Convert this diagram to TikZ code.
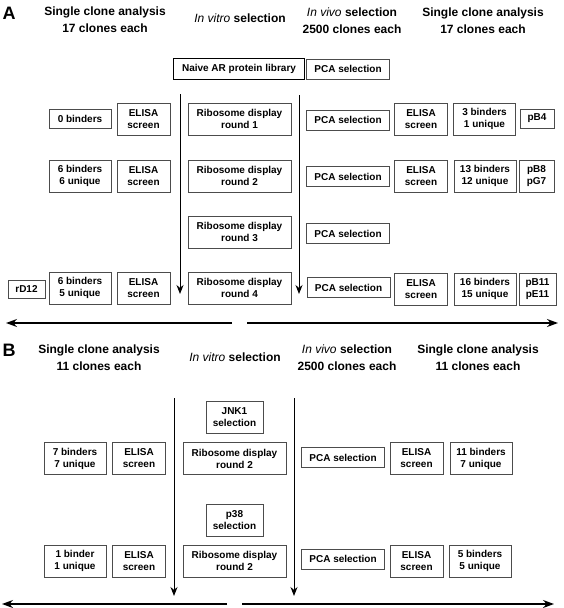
\documentclass[tikz,border=0pt]{standalone}
\usepackage{fontspec}
\setmainfont{Liberation Sans}
\usetikzlibrary{arrows.meta}

\begin{document}
\begin{tikzpicture}[x=1pt, y=-1pt,
  box/.style={rectangle, draw=black!70, line width=0.7pt, align=center,
              inner sep=1pt, minimum height=32pt,
              font=\bfseries\fontsize{10}{12}\selectfont},
  ribo/.style={box, minimum width=103pt},
  elisa/.style={box, minimum width=53pt},
  hits/.style={box, minimum width=62pt},
  pca/.style={box, minimum width=83pt, minimum height=20pt},
  clone/.style={box, minimum width=34pt},
  lib/.style={box, draw=black, line width=1.8pt, minimum width=131pt, minimum height=21pt},
  hdr/.style={align=center, font=\bfseries\fontsize{12}{17}\selectfont},
  panel/.style={font=\bfseries\fontsize{18}{18}\selectfont},
  arr/.style={-{Stealth[length=9pt,width=7pt]}, line width=1pt},
  flow/.style={-{Stealth[length=11pt,width=8pt]}, line width=1.3pt}
]
\useasboundingbox (0,0) rectangle (564,608);

% panel A
\node[panel] (pa) at (9,13) {A};
\node[hdr] (ha1) at (105,19.5) {Single clone analysis\\17 clones each};
\node[hdr] (ha2) at (240,18) {\textit{\mdseries In vitro} selection};
\node[hdr] (ha3) at (352,20.5) {\textit{\mdseries In vivo} selection\\2500 clones each};
\node[hdr] (ha4) at (483,20.5) {Single clone analysis\\17 clones each};

\node[lib] (lib) at (239,69) {Naive AR protein library};
\node[pca] (pca0) at (348,69) {PCA selection};

\node[hits, minimum height=19pt] (ha1l) at (80,119) {0 binders};
\node[elisa] (ea1l) at (143.5,119) {ELISA\\screen};
\node[ribo] (ra1) at (239.5,119) {Ribosome display\\round 1};
\node[pca] (pa1) at (348,120) {PCA selection};
\node[elisa] (ea1r) at (421,119.5) {ELISA\\screen};
\node[hits] (ha1r) at (484.5,119) {3 binders\\1 unique};
\node[clone, minimum height=19pt] (ca1) at (537,118.5) {pB4};

\node[hits] (ha2l) at (80,176) {6 binders\\6 unique};
\node[elisa] (ea2l) at (143.5,176) {ELISA\\screen};
\node[ribo] (ra2) at (239.5,176) {Ribosome display\\round 2};
\node[pca] (pa2) at (348,176.5) {PCA selection};
\node[elisa] (ea2r) at (421,176) {ELISA\\screen};
\node[hits] (ha2r) at (485,176) {13 binders\\12 unique};
\node[clone, minimum width=35pt] (ca2) at (536.5,176) {pB8\\pG7};

\node[ribo] (ra3) at (239.5,232) {Ribosome display\\round 3};
\node[pca] (pa3) at (348,233.5) {PCA selection};

\node[clone, minimum width=37pt, minimum height=18pt] (ca4l) at (26.5,289) {rD12};
\node[hits] (ha4l) at (80,288) {6 binders\\5 unique};
\node[elisa] (ea4l) at (143.5,288) {ELISA\\screen};
\node[ribo] (ra4) at (239.5,288) {Ribosome display\\round 4};
\node[pca] (pa4) at (348.5,287.5) {PCA selection};
\node[elisa] (ea4r) at (421,289) {ELISA\\screen};
\node[hits] (ha4r) at (485,289) {16 binders\\15 unique};
\node[clone, minimum width=37pt] (ca4r) at (537.5,289) {pB11\\pE11};

\coordinate (va1) at (180,94);
\coordinate (va1e) at (180,294);
\coordinate (va2) at (299,95);
\coordinate (va2e) at (299,294);
\draw[arr] (va1) -- (va1e);
\draw[arr] (va2) -- (va2e);

\coordinate (tas) at (232,323);
\coordinate (tal) at (6,323);
\coordinate (tbs) at (247,323);
\coordinate (tar) at (558,323);
\draw[flow] (tas) -- (tal);
\draw[flow] (tbs) -- (tar);

% panel B
\node[panel] (pb) at (9,350) {B};
\node[hdr] (hb1) at (99,358) {Single clone analysis\\11 clones each};
\node[hdr] (hb2) at (235,357) {\textit{\mdseries In vitro} selection};
\node[hdr] (hb3) at (347,358) {\textit{\mdseries In vivo} selection\\2500 clones each};
\node[hdr] (hb4) at (478,358) {Single clone analysis\\11 clones each};

\node[box, minimum width=57pt] (jnk) at (234.5,417.5) {JNK1\\selection};
\node[hits] (hb1l) at (75,458.5) {7 binders\\7 unique};
\node[elisa] (eb1l) at (139,458.5) {ELISA\\screen};
\node[ribo] (rb1) at (234.5,458.5) {Ribosome display\\round 2};
\node[pca] (pb1) at (343,457.5) {PCA selection};
\node[elisa] (eb1r) at (416.5,458.5) {ELISA\\screen};
\node[hits] (hb1r) at (481,458.5) {11 binders\\7 unique};

\node[box, minimum width=57pt] (p38) at (234.5,520) {p38\\selection};
\node[hits] (hb2l) at (75,561) {1 binder\\1 unique};
\node[elisa] (eb2l) at (139,561) {ELISA\\screen};
\node[ribo] (rb2) at (234.5,561) {Ribosome display\\round 2};
\node[pca] (pb2) at (343,559) {PCA selection};
\node[elisa] (eb2r) at (416.5,561) {ELISA\\screen};
\node[hits] (hb2r) at (480,561) {5 binders\\5 unique};

\coordinate (vb1) at (174,398);
\coordinate (vb1e) at (174,596);
\coordinate (vb2) at (294,398);
\coordinate (vb2e) at (294,596);
\draw[arr] (vb1) -- (vb1e);
\draw[arr] (vb2) -- (vb2e);

\coordinate (tcs) at (227,604);
\coordinate (tcl) at (2,604);
\coordinate (tds) at (242,604);
\coordinate (tdr) at (554,604);
\draw[flow] (tcs) -- (tcl);
\draw[flow] (tds) -- (tdr);
\end{tikzpicture}
\end{document}
